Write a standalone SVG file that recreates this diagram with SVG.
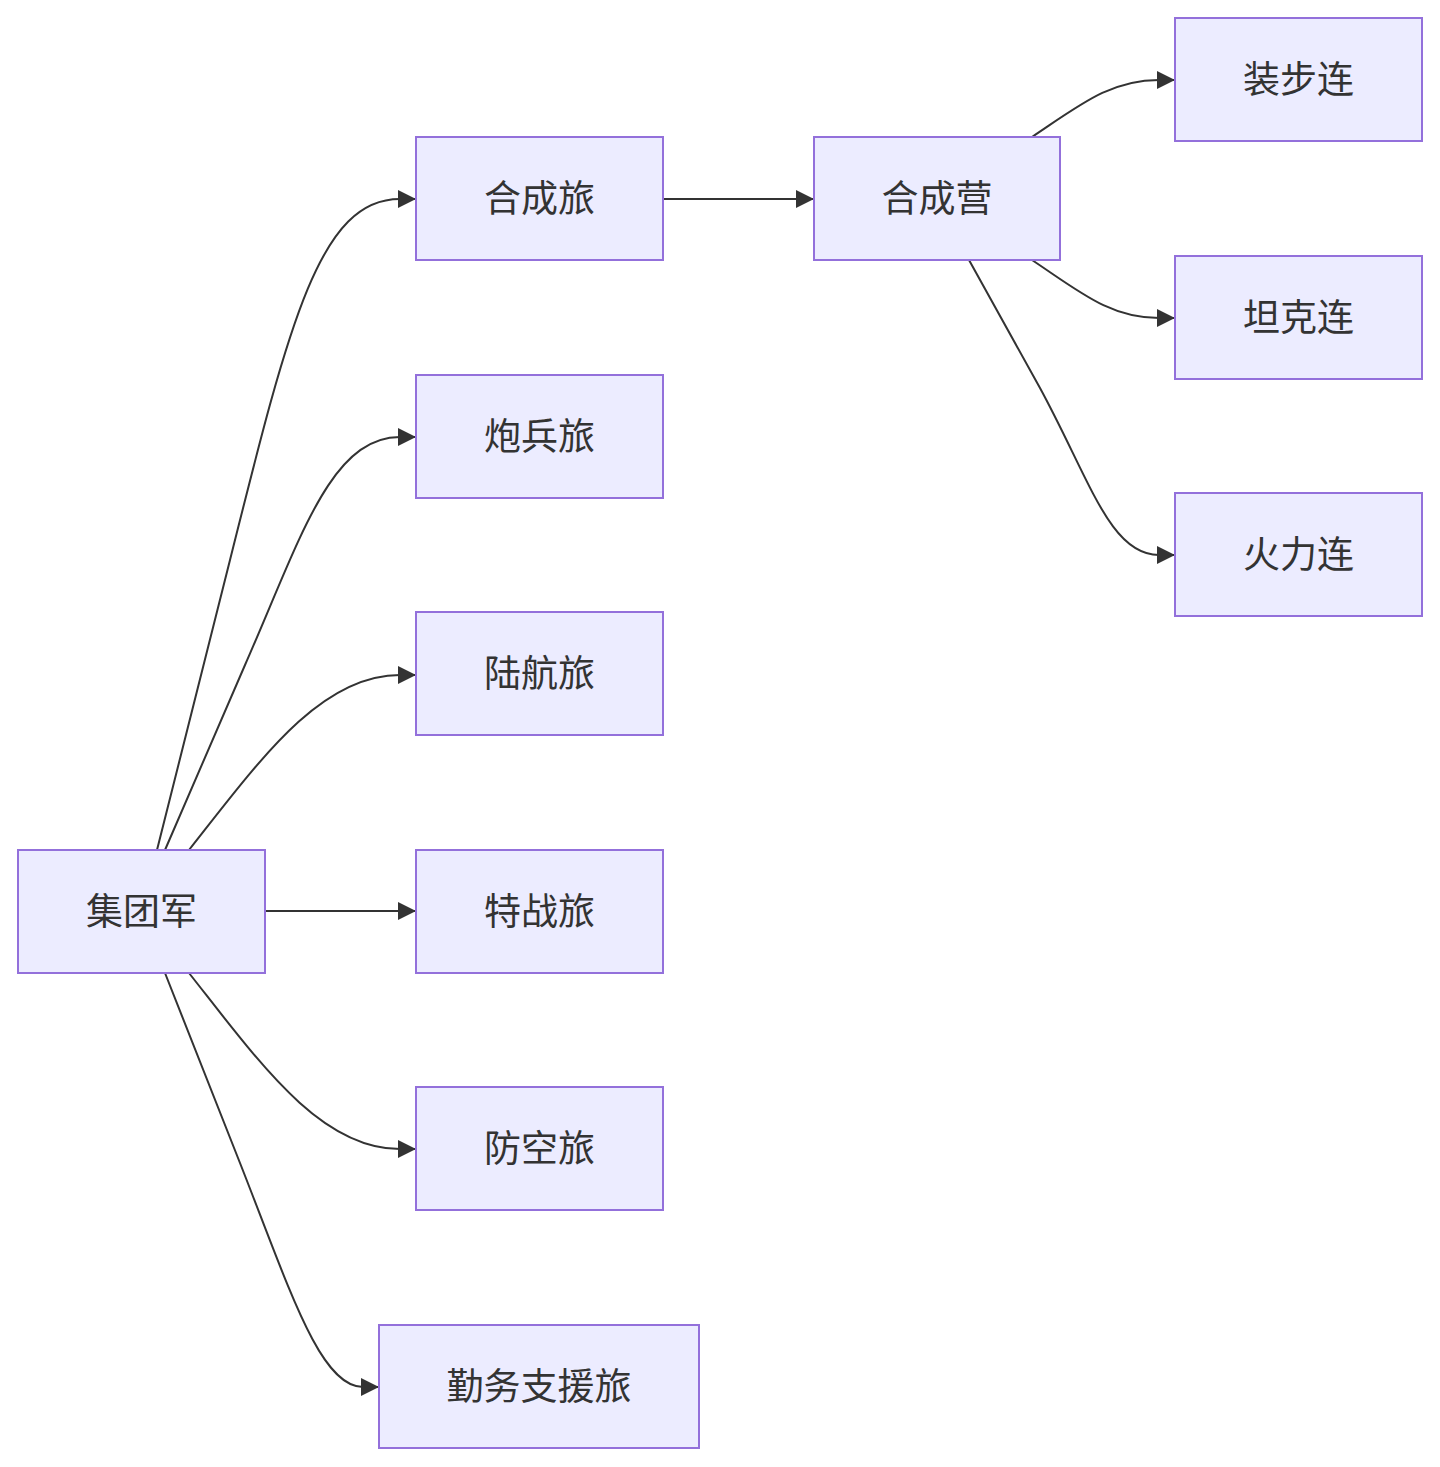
<svg xmlns="http://www.w3.org/2000/svg" width="1440" height="1467" viewBox="0 0 1440 1467">
<style>
.node rect{fill:#ECECFF;stroke:#9370DB;stroke-width:2}
.node text{font-family:"Noto Sans CJK SC","Noto Sans",sans-serif;font-size:37px;fill:#333333;text-anchor:middle;dominant-baseline:central}
.edges path{fill:none;stroke:#333333;stroke-width:2}
</style>
<defs>
<marker id="arrow" viewBox="0 0 10 10" refX="10" refY="5" markerUnits="userSpaceOnUse" markerWidth="18" markerHeight="18" orient="auto">
<path d="M0,0 L10,5 L0,10 z" fill="#333333"/>
</marker>
</defs>
<rect width="1440" height="1467" fill="#ffffff"/>
<g class="edges">
<path d="M157,850 L230,560 C290,320 320,199 400,199 L416,199" marker-end="url(#arrow)"/>
<path d="M165,850 L245,665 C300,540 330,437 400,437 L416,437" marker-end="url(#arrow)"/>
<path d="M189,850 C260,760 320,675 400,675 L416,675" marker-end="url(#arrow)"/>
<path d="M265,911 L416,911" marker-end="url(#arrow)"/>
<path d="M189,973 C260,1063 320,1149 400,1149 L416,1149" marker-end="url(#arrow)"/>
<path d="M165,973 L240,1163 C290,1290 320,1387 363,1387 L379,1387" marker-end="url(#arrow)"/>
<path d="M663,199 L814,199" marker-end="url(#arrow)"/>
<path d="M1032,137 C1080,105 1110,80 1159,80 L1175,80" marker-end="url(#arrow)"/>
<path d="M1032,260 C1080,292 1110,318 1159,318 L1175,318" marker-end="url(#arrow)"/>
<path d="M969,260 L1040,388 C1090,480 1110,555 1159,555 L1175,555" marker-end="url(#arrow)"/>
</g>
<g id="jituanjun" class="node"><rect x="18" y="850" width="247" height="123"/><text x="141.5" y="909">集团军</text></g>
<g id="hechenglv" class="node"><rect x="416" y="137" width="247" height="123"/><text x="539.5" y="196">合成旅</text></g>
<g id="paobinglv" class="node"><rect x="416" y="375" width="247" height="123"/><text x="539.5" y="434">炮兵旅</text></g>
<g id="luhanglv" class="node"><rect x="416" y="612" width="247" height="123"/><text x="539.5" y="671">陆航旅</text></g>
<g id="tezhanlv" class="node"><rect x="416" y="850" width="247" height="123"/><text x="539.5" y="909">特战旅</text></g>
<g id="fangkonglv" class="node"><rect x="416" y="1087" width="247" height="123"/><text x="539.5" y="1146">防空旅</text></g>
<g id="qinwulv" class="node"><rect x="379" y="1325" width="320" height="123"/><text x="539" y="1384">勤务支援旅</text></g>
<g id="hechengying" class="node"><rect x="814" y="137" width="246" height="123"/><text x="937" y="196">合成营</text></g>
<g id="zhuangbulian" class="node"><rect x="1175" y="18" width="247" height="123"/><text x="1298.5" y="77">装步连</text></g>
<g id="tankelian" class="node"><rect x="1175" y="256" width="247" height="123"/><text x="1298.5" y="315">坦克连</text></g>
<g id="huolilian" class="node"><rect x="1175" y="493" width="247" height="123"/><text x="1298.5" y="552">火力连</text></g>
</svg>
